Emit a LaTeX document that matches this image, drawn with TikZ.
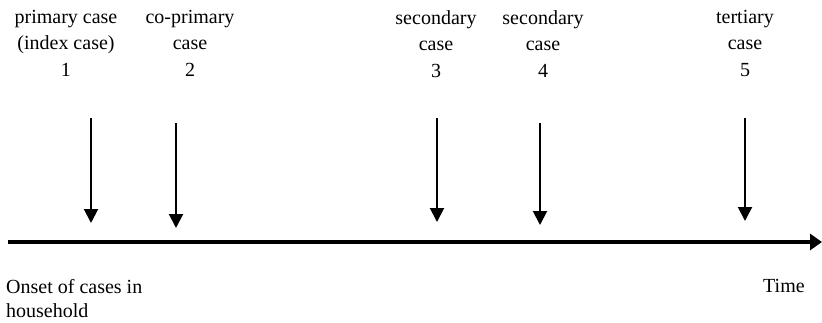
\documentclass[tikz,border=0pt]{standalone}
\usepackage{fontspec}
\setmainfont{Liberation Serif}
\usetikzlibrary{arrows.meta}
\tikzset{
    caselabel/.style={align=center, anchor=north, inner sep=0pt,
        font=\fontsize{20}{26.5}\selectfont},
    plainlabel/.style={align=left, anchor=north west, inner sep=0pt,
        font=\fontsize{20}{24.5}\selectfont},
    onset/.style={-{Triangle[length=14pt,width=14pt]}, line width=2pt},
    timeline/.style={-{Triangle[length=12pt,width=16pt]}, line width=4pt},
}
\begin{document}
\begin{tikzpicture}[x=1pt,y=-1pt]
    \useasboundingbox (0,0) rectangle (822,322);
    % labels of the cases
    \node[caselabel] (lab1) at (66,10) {primary case\\(index case)\\1};
    \node[caselabel] (lab2) at (190,10) {co-primary\\case\\2};
    \node[caselabel] (lab3) at (436,10) {secondary\\case\\3};
    \node[caselabel] (lab4) at (543,10) {secondary\\case\\4};
    \node[caselabel] (lab5) at (745,10) {tertiary\\case\\5};
    % onset arrows
    \coordinate (top1) at (91,118);  \coordinate (tip1) at (91,223);
    \coordinate (top2) at (176,123); \coordinate (tip2) at (176,228);
    \coordinate (top3) at (437,118); \coordinate (tip3) at (437,222);
    \coordinate (top4) at (540,123); \coordinate (tip4) at (540,225);
    \coordinate (top5) at (745,118); \coordinate (tip5) at (745,221);
    \foreach \i in {1,...,5}
        \draw[onset] (top\i) -- (tip\i);
    % time axis
    \coordinate (start) at (8,242);
    \coordinate (end) at (822,242);
    \draw[timeline] (start) -- (end);
    \node[plainlabel] (house) at (6,279) {Onset of cases in\\household};
    \node[plainlabel] (time) at (763,279) {Time};
\end{tikzpicture}
\end{document}
